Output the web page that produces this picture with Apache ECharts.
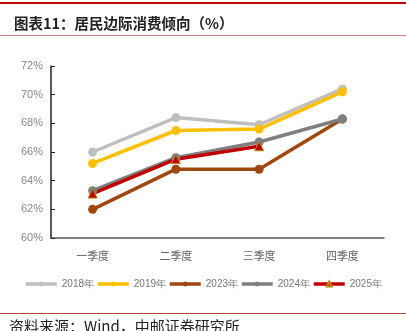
<!DOCTYPE html>
<html><head><meta charset="utf-8">
<script src="https://cdn.jsdelivr.net/npm/echarts@6/dist/echarts.min.js"></script>
<style>html,body{margin:0;padding:0;background:#fff;}#c{width:406px;height:331px;}</style>
</head><body><div id="c"></div>
<script>
const categories = ['一季度','二季度','三季度','四季度'];
const s2018 = [66.0, 68.4, 67.9, 70.4];
const s2019 = [65.2, 67.5, 67.6, 70.2];
const s2023 = [62.0, 64.8, 64.8, 68.3];
const s2024 = [63.3, 65.6, 66.7, 68.3];
const s2025 = [63.1, 65.5, 66.4];
const seriesNames = ['2018年','2019年','2023年','2024年','2025年'];
const yTicks = [60, 62, 64, 66, 68, 70, 72];

const chart = echarts.init(document.getElementById('c'));
function line(name, data, color, symbol, size, extra) {
  return Object.assign({
    name: name, type: 'line', data: data, symbol: symbol, symbolSize: size,
    lineStyle: {color: color, width: 3.5},
    itemStyle: {color: color},
    animation: false
  }, extra || {});
}
chart.setOption({
  animation: false,
  title: {
    text: '图表11：居民边际消费倾向（%）', left: 9, top: 11,
    textStyle: {fontSize: 14.5, fontWeight: 'bold', color: '#222', fontFamily: 'Noto Sans CJK SC'}
  },
  graphic: [
    {type: 'rect', shape: {x: 0, y: 2, width: 406, height: 2}, style: {fill: '#C00000'}},
    {type: 'rect', shape: {x: 0, y: 35, width: 406, height: 1}, style: {fill: '#D08080'}},
    {type: 'rect', shape: {x: 0, y: 313, width: 406, height: 1}, style: {fill: '#C04040'}},
    {type: 'text', left: 9, top: 319, style: {text: '资料来源：Wind，中邮证券研究所', fontSize: 15, fill: '#222', fontFamily: 'Noto Sans CJK SC'}}
  ],
  grid: {left: 51, right: 22, top: 66, bottom: 93},
  legend: {
    data: seriesNames, top: 274, left: 'center',
    itemWidth: 31, itemHeight: 6, itemGap: 2,
    lineStyle: {width: 3.5},
    textStyle: {fontSize: 10, color: '#777', fontFamily: 'Liberation Sans'}
  },
  xAxis: {
    type: 'category', data: categories, boundaryGap: true,
    axisLine: {lineStyle: {color: '#595959', width: 1.5}},
    axisTick: {show: false},
    axisLabel: {color: '#666', fontSize: 11, margin: 12, fontFamily: 'Noto Sans CJK SC'}
  },
  yAxis: {
    type: 'value', min: 60, max: 72, interval: 2,
    axisLine: {show: true, lineStyle: {color: '#222', width: 1.5}},
    axisTick: {show: true, inside: true, length: 4, lineStyle: {color: '#222'}},
    splitLine: {show: false},
    axisLabel: {color: '#888', fontSize: 11, formatter: v => v + '%', fontFamily: 'Liberation Sans'}
  },
  series: [
    line(seriesNames[0], s2018, '#BFBFBF', 'circle', 9),
    line(seriesNames[1], s2019, '#FFC000', 'circle', 9),
    line(seriesNames[2], s2023, '#9E480E', 'circle', 9),
    line(seriesNames[3], s2024, '#7F7F7F', 'circle', 9),
    line(seriesNames[4], s2025, '#C00000', 'triangle', 9, {itemStyle: {color: '#C00000', borderColor: '#B8860B', borderWidth: 1}})
  ]
});
</script></body></html>
